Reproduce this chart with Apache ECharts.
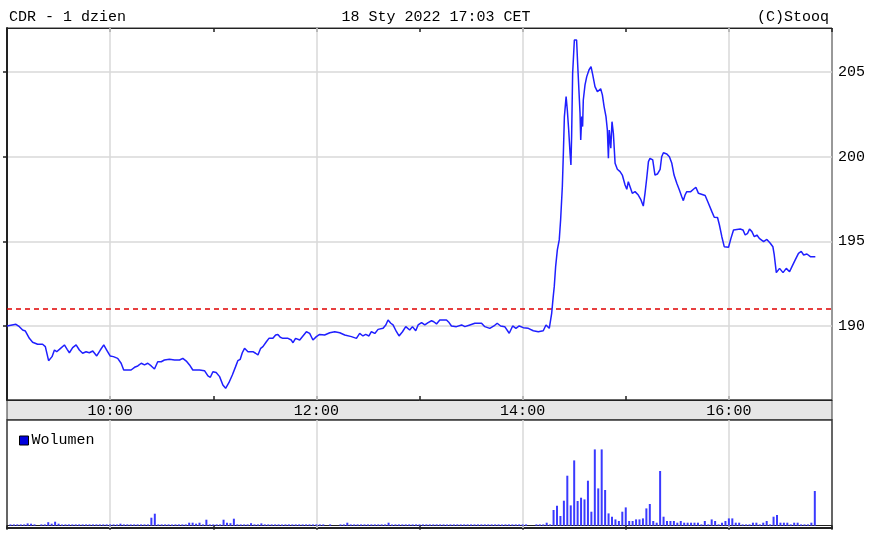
<!DOCTYPE html>
<html>
<head>
<meta charset="utf-8">
<script src="https://cdn.jsdelivr.net/npm/echarts@6/dist/echarts.min.js"></script>
<style>
html,body{margin:0;padding:0;background:#fff;}
#chart{width:872px;height:533px;}
</style>
</head>
<body>
<div id="chart"></div>
<script>
// ---- data ----
var headerLeft = 'CDR - 1 dzien';
var headerCenter = '18 Sty 2022 17:03 CET';
var headerRight = '(C)Stooq';
var volumeLabel = 'Wolumen';
var previousClose = 191.0;
var yTicks = [190, 195, 200, 205];
var hourLabels = ['10:00', '12:00', '14:00', '16:00'];
var hourLabelMinutes = [60, 180, 300, 420]; // minutes after 09:00

// minutes after 09:00
var times = [
0,5.2,7.2,9.1,10.7,13.0,14.9,17.8,20.7,22.3,24.2,26.2,27.6,28.9,30.5,33.4,35.0,36.3,38.2,40.2,
42.1,44.0,46.0,47.9,49.9,52.2,54.3,56.3,58.0,60.0,61.9,64.4,66.4,67.9,72.2,74.2,76.1,78.1,80.0,81.9,
83.9,85.8,87.7,89.7,91.6,94.5,97.5,100.4,102.3,104.3,106.2,108.1,112.0,114.9,116.9,118.3,119.8,121.7,123.7,125.6,
127.2,129.1,131.1,133.0,134.3,135.7,136.9,138.2,140.2,143.1,144.6,146.0,147.6,148.9,150.9,152.4,154.7,156.3,157.6,159.0,
160.5,163.5,165.4,166.4,167.9,170.3,174.2,176.1,178.0,180.0,181.9,184.8,187.8,190.7,193.6,196.5,200.4,203.3,205.2,207.1,
208.7,210.6,212.0,214.0,215.9,218.8,220.4,221.7,223.3,224.6,226.6,228.1,230.1,232.0,234.3,235.9,237.8,239.2,241.2,243.1,
245.0,247.0,248.3,249.9,251.8,255.7,257.2,258.6,261.5,264.5,266.4,269.3,272.2,276.1,278.0,280.9,283.3,285.2,287.2,289.6,
292.2,294.2,296.1,298.0,300.4,303.3,306.2,309.1,312.0,313.6,315.5,316.9,317.8,318.4,319.2,320.2,321.3,322.1,323.1,323.7,
324.3,325.3,326.0,326.8,327.6,328.1,328.5,329.1,330.1,331.4,332.0,332.8,333.4,333.8,334.4,334.9,335.3,336.3,337.3,338.6,
339.8,340.8,342.1,343.5,344.5,345.4,346.4,347.4,348.5,349.3,349.9,350.4,351.3,352.0,352.8,353.8,355.1,356.7,358.0,359.6,
360.6,361.5,362.5,363.8,365.4,367.3,368.7,370.2,371.2,372.2,373.2,374.1,375.7,377.0,378.4,380.0,380.9,381.9,383.9,385.4,
386.8,388.1,389.7,391.2,392.6,393.5,394.5,395.5,397.8,399.4,400.8,402.3,403.3,406.2,408.1,410.1,411.5,413.4,414.5,415.9,
417.3,419.8,421.2,422.7,423.7,426.6,428.2,429.5,430.9,432.0,433.4,434.8,436.3,437.7,438.8,440.2,442.1,444.1,445.6,446.4,
447.6,449.5,451.5,453.4,455.3,456.7,458.6,460.5,462.1,463.5,465.4,467.4,470.3
];
var prices = [
190.00,190.10,189.96,189.76,189.70,189.27,189.04,188.92,188.92,188.78,187.95,188.19,188.58,188.48,188.62,188.88,188.62,188.42,188.72,188.88,
188.58,188.39,188.48,188.42,188.52,188.23,188.58,188.88,188.58,188.23,188.19,188.09,187.80,187.40,187.40,187.56,187.64,187.80,187.70,187.80,
187.64,187.46,187.89,187.89,187.99,188.03,187.99,187.99,188.09,187.93,187.70,187.40,187.40,187.36,187.05,186.97,187.30,187.25,187.01,186.52,
186.32,186.65,187.11,187.60,187.95,188.03,188.42,188.68,188.48,188.48,188.39,188.29,188.68,188.78,189.07,189.27,189.27,189.47,189.50,189.33,
189.27,189.27,189.17,189.01,189.27,189.17,189.66,189.56,189.17,189.37,189.50,189.47,189.60,189.66,189.60,189.47,189.37,189.27,189.56,189.41,
189.50,189.41,189.66,189.56,189.80,189.86,190.06,190.35,190.16,190.06,189.66,189.41,189.66,189.96,189.76,189.96,189.72,190.06,190.20,190.06,
190.20,190.31,190.25,190.12,190.35,190.35,190.20,190.00,189.96,190.06,189.96,190.06,190.16,190.16,189.96,189.86,190.00,190.16,190.00,189.96,
189.57,190.00,189.86,190.00,189.90,189.86,189.72,189.66,189.72,190.06,189.86,190.75,191.73,192.32,193.50,194.49,195.08,196.26,198.22,200.19,
202.36,203.54,202.75,201.57,200.19,199.50,201.17,204.92,206.88,206.88,205.51,205.40,202.56,200.98,202.36,201.77,203.34,204.23,204.72,205.11,
205.31,204.82,204.13,203.83,203.93,204.00,203.64,202.95,202.36,201.57,199.90,201.57,200.49,202.06,201.37,199.60,199.25,199.11,198.91,198.32,
198.07,198.52,198.22,197.83,197.93,197.73,197.48,197.08,197.83,198.72,199.70,199.90,199.80,198.91,198.97,199.25,199.99,200.23,200.15,199.99,
199.60,198.91,198.42,198.03,197.63,197.40,197.73,197.93,197.93,198.07,198.19,197.83,197.73,197.70,197.24,196.75,196.42,196.40,195.96,195.27,
194.68,194.65,195.17,195.67,195.77,195.72,195.67,195.37,195.47,195.72,195.57,195.27,195.37,195.17,195.27,194.98,195.11,194.88,194.68,194.19,
193.15,193.40,193.15,193.40,193.20,193.50,193.90,194.29,194.40,194.19,194.25,194.09,194.09
];

// volume per 2-minute bar, first bar at 09:02, last at 16:50 (relative units)
var volumeStartMinute = 2;
var volumeStepMinutes = 2;
var volume = [
1.3,1.3,1.3,1.3,1.3,2.3,2,1.3,0,1.3,
1.3,3.5,2,4,2,1.3,1.3,1.3,1.3,1.3,
1.3,1.3,1.3,1.3,1.3,1.3,1.3,1.3,1.3,1.3,
1.3,1.3,2,1.3,1.3,1.3,1.3,1.3,1.3,1.3,
1.3,8,12,1.3,1.3,1.3,1.3,1.3,1.3,1.3,
1.3,1.3,3,3,2,3,1.3,6,1.3,1.3,
1.3,1.3,6,3,2.5,7,1.3,1.3,1.3,1.3,
2.5,1.3,1.3,2.3,1.3,1.3,1.3,1.3,1.3,1.3,
1.3,1.3,1.3,1.3,1.3,1.3,1.3,1.3,1.3,1.3,
1.3,1.3,0,1.3,0,0,1.3,1.3,3,1.3,
1.3,1.3,1.3,1.3,1.3,1.3,1.3,1.3,1.3,1.3,
3,1.3,1.3,1.3,1.3,1.3,1.3,1.3,1.3,1.3,
1.3,1.3,1.3,1.3,1.3,1.3,1.3,1.3,1.3,1.3,
1.3,1.3,1.3,1.3,1.3,1.3,1.3,1.3,1.3,1.3,
1.3,1.3,1.3,1.3,1.3,1.3,1.3,1.3,1.3,1.3,
1.3,0,0,1.3,1.3,1.3,3,1.3,15.7,20,
9.7,25,50,20.3,65.3,24.7,28,26.3,45,14,
76.3,37.3,76.3,35.7,12.3,9,6.3,4.7,14,18.3,
4.7,4.7,6.3,6.3,7.3,17.3,21.7,4.7,3,54.7,
9,4.7,4.7,4.7,3,4.7,3,3,3,3,
3,1.3,4.7,1.3,6.3,4.7,1.3,3,4.7,7.3,
7.3,3,3,1.3,1.3,1.3,3,3,1.3,3,
4.7,1.3,9,10.7,3,3,3,1.3,3,3,
1.3,1.3,1.3,3,34.7
];

// ---- build ----
var priceData = times.map(function (t, i) { return [t, prices[i]]; });
var volData = volume.map(function (v, i) { return [volumeStartMinute + i * volumeStepMinutes, v]; });

var FONT = 'Liberation Mono';
var TXT = { fontFamily: FONT, fontSize: 15, color: '#000', fontWeight: 'normal' };
var AXC = '#222';
var GRIDC = '#d9d9d9';

function hourFmt(v) {
  var idx = hourLabelMinutes.indexOf(v);
  return idx >= 0 ? hourLabels[idx] : '';
}
var vGrid = hourLabelMinutes.map(function (m) { return { xAxis: m }; });

var chart = echarts.init(document.getElementById('chart'), null, { renderer: 'canvas' });
chart.setOption({
  animation: false,
  backgroundColor: '#fff',
  title: [
    { text: headerLeft, left: 4, top: 5, textStyle: TXT },
    { text: headerCenter, left: 'center', top: 5, textStyle: TXT },
    { text: headerRight, right: 38, top: 5, textStyle: TXT }
  ],
  legend: {
    data: [volumeLabel], left: 14, top: 428, icon: 'rect', itemWidth: 9, itemHeight: 9, itemGap: 6,
    textStyle: { fontFamily: FONT, fontSize: 15, color: '#000', padding: [0, 0, 0, -2] },
    itemStyle: { borderColor: '#000', borderWidth: 1, color: '#0000dd' }
  },
  grid: [
    { left: 7, top: 28, width: 825, height: 372, show: true, backgroundColor: '#fff', borderColor: '#333', borderWidth: 1 },
    { left: 7, top: 400, width: 825, height: 20, show: true, backgroundColor: '#e6e6e6', borderColor: '#333', borderWidth: 1 },
    { left: 7, top: 420, width: 825, height: 108, show: true, backgroundColor: '#fff', borderColor: '#333', borderWidth: 1.5 }
  ],
  xAxis: [
    { gridIndex: 0, type: 'value', min: 0, max: 480, interval: 60, position: 'bottom',
      axisLine: { show: true, lineStyle: { color: AXC, width: 1 } },
      axisTick: { show: true, inside: true, length: 4, lineStyle: { color: AXC, width: 1.5 } },
      axisLabel: { show: true, formatter: hourFmt, margin: 4, fontFamily: FONT, fontSize: 15, color: '#000', showMinLabel: false, showMaxLabel: false },
      splitLine: { show: false } },
    { gridIndex: 0, type: 'value', min: 0, max: 480, interval: 60, position: 'top',
      axisLine: { show: true, lineStyle: { color: AXC, width: 1 } },
      axisTick: { show: true, inside: true, length: 4, lineStyle: { color: AXC, width: 1.5 } },
      axisLabel: { show: false }, splitLine: { show: false } },
    { gridIndex: 2, type: 'value', min: 0, max: 480, interval: 60, position: 'top',
      axisLine: { show: true, lineStyle: { color: AXC, width: 1 } },
      axisTick: { show: true, inside: true, length: 4, lineStyle: { color: AXC, width: 1.5 } },
      axisLabel: { show: false }, splitLine: { show: false } },
    { gridIndex: 2, type: 'value', min: 0, max: 480, position: 'bottom',
      axisLine: { show: true, lineStyle: { color: AXC, width: 2 } },
      axisTick: { show: false }, axisLabel: { show: false }, splitLine: { show: false } },
    { gridIndex: 1, type: 'value', min: 0, max: 480, show: false }
  ],
  yAxis: [
    { gridIndex: 0, type: 'value', min: 185.63, max: 207.59, position: 'right',
      axisLine: { show: true, lineStyle: { color: AXC, width: 2 } },
      axisTick: { show: true, inside: true, length: 4, lineStyle: { color: AXC, width: 1.5 } },
      axisLabel: { show: true, margin: 6, fontFamily: FONT, fontSize: 15, color: '#000',
        showMinLabel: false, showMaxLabel: false,
        formatter: function (v) { return yTicks.indexOf(Math.round(v * 100) / 100) >= 0 ? String(v) : ''; } },
      splitLine: { show: true, showMinLine: false, showMaxLine: false, lineStyle: { color: GRIDC, width: 1.5 } } },
    { gridIndex: 2, type: 'value', min: -2.3, max: 105.7, show: false, splitLine: { show: false } },
    { gridIndex: 1, type: 'value', min: 0, max: 1, show: false }
  ],
  series: [
    { name: 'grid-main', type: 'line', xAxisIndex: 0, yAxisIndex: 0, data: [], silent: true, z: 1,
      markLine: { silent: true, symbol: 'none', label: { show: false },
        lineStyle: { color: GRIDC, width: 1.5, type: 'solid' }, data: vGrid } },
    { name: 'grid-vol', type: 'line', xAxisIndex: 3, yAxisIndex: 1, data: [], silent: true, z: 1,
      markLine: { silent: true, symbol: 'none', label: { show: false },
        lineStyle: { color: GRIDC, width: 1.5, type: 'solid' }, data: vGrid } },
    { name: 'ref', type: 'line', xAxisIndex: 0, yAxisIndex: 0, data: [], silent: true, z: 2,
      markLine: { silent: true, symbol: 'none', label: { show: false },
        lineStyle: { color: '#e00000', width: 1.5, type: [5, 4] }, data: [{ yAxis: previousClose }] } },
    { name: 'CDR', type: 'line', xAxisIndex: 0, yAxisIndex: 0, data: priceData, showSymbol: false, z: 5,
      lineStyle: { color: '#1f1fff', width: 1.5 }, itemStyle: { color: '#1f1fff' } },
    { name: volumeLabel, type: 'bar', xAxisIndex: 3, yAxisIndex: 1, data: volData, barWidth: 2, z: 5,
      itemStyle: { color: '#3a3aff' } }
  ]
});
</script>
</body>
</html>
